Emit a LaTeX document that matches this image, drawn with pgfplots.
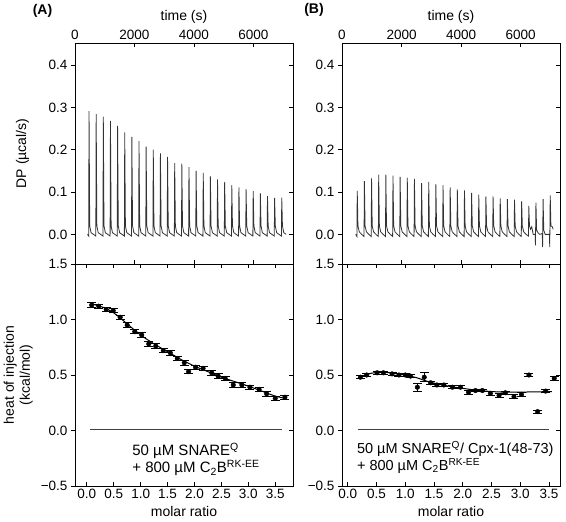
\documentclass[border=0pt]{standalone}
\usepackage{pgfplots}
\pgfplotsset{compat=1.18}
\usepackage{fontspec}
\setmainfont{Liberation Sans}
\pgfplotsset{
  myax/.style={scale only axis, width=218pt, anchor=north west,
    axis line style={line width=0.9pt}, tick style={black, line width=0.8pt},
    major tick length=4pt,
    tick label style={font=\fontsize{13.5}{15}\selectfont},
    label style={font=\fontsize{14}{16}\selectfont}},
  rt/.style={myax, xtick=\empty, ytick pos=right, yticklabels={}, ytick align=inside, axis line style={draw=none}},
  thermo/.style={draw=black!80, line width=0.8pt},
  itc/.style={only marks, mark=*, mark size=2.3pt, black,
    error bars/.cd, y dir=both, y explicit,
    error mark options={rotate=90, mark size=4.5pt, line width=0.9pt, black},
    error bar style={line width=0.9pt, black}}
}
\begin{document}
\begin{tikzpicture}
\useasboundingbox (0pt,0pt) rectangle (566pt,-522pt);
% ---------------- (A) top
\begin{axis}[myax, at={(75pt,-43pt)}, height=221pt, xmin=0, xmax=7330, ymin=-0.07, ymax=0.452,
  xtick={0,2000,4000,6000}, xticklabels={0,2000,4000,6000}, xtick pos=both, xticklabel pos=upper, xtick align=inside,
  ytick={0,0.1,0.2,0.3,0.4}, yticklabels={0.0,0.1,0.2,0.3,0.4}, ytick pos=left, ytick align=outside,
  xlabel={time (s)}, ylabel={DP (µcal/s)},
  ylabel style={at={(axis description cs:-0.241,0.5)}, anchor=center}]
\addplot[thermo] table {
420 0
460 -0.004
472 0.291
495 0.02
540 0.004
620 0
700 -0.004
712 0.284
735 0.02
780 0.004
860 0
940 -0.004
952 0.278
975 0.02
1020 0.004
1100 0
1180 -0.004
1192 0.268
1215 0.02
1260 0.004
1340 0
1420 -0.004
1432 0.256
1455 0.02
1500 0.004
1580 0
1660 -0.004
1672 0.241
1695 0.02
1740 0.004
1820 0
1900 -0.004
1912 0.230
1935 0.02
1980 0.004
2060 0
2140 -0.004
2152 0.220
2175 0.02
2220 0.004
2300 0
2380 -0.004
2392 0.207
2415 0.02
2460 0.004
2540 0
2620 -0.004
2632 0.200
2655 0.02
2700 0.004
2780 0
2860 -0.004
2872 0.191
2895 0.02
2940 0.004
3020 0
3100 -0.004
3112 0.183
3135 0.02
3180 0.004
3260 0
3340 -0.004
3352 0.168
3375 0.02
3420 0.004
3500 0
3580 -0.004
3592 0.167
3615 0.02
3660 0.004
3740 0
3820 -0.004
3832 0.159
3855 0.02
3900 0.004
3980 0
4060 -0.004
4072 0.150
4095 0.02
4140 0.004
4220 0
4300 -0.004
4312 0.145
4335 0.02
4380 0.004
4460 0
4540 -0.004
4552 0.137
4575 0.02
4620 0.004
4700 0
4780 -0.004
4792 0.130
4815 0.02
4860 0.004
4940 0
5020 -0.004
5032 0.124
5055 0.02
5100 0.004
5180 0
5260 -0.004
5272 0.116
5295 0.02
5340 0.004
5420 0
5500 -0.004
5512 0.111
5535 0.02
5580 0.004
5660 0
5740 -0.004
5752 0.107
5775 0.02
5820 0.004
5900 0
5980 -0.004
5992 0.102
6015 0.02
6060 0.004
6140 0
6220 -0.004
6232 0.097
6255 0.02
6300 0.004
6380 0
6460 -0.004
6472 0.091
6495 0.02
6540 0.004
6620 0
6700 -0.004
6712 0.086
6735 0.02
6780 0.004
6860 0
6940 -0.004
6952 0.087
6975 0.02
7020 0.004
7100 0
};
\end{axis}
\begin{axis}[rt, at={(75pt,-43pt)}, height=221pt, xmin=0, xmax=7330, ymin=-0.07, ymax=0.452,
  ytick={0,0.1,0.2,0.3,0.4}]
\end{axis}
% ---------------- (A) bottom
\begin{axis}[myax, at={(75pt,-264pt)}, height=222pt, xmin=-0.22, xmax=3.83, ymin=-0.5, ymax=1.5,
  xtick={0,0.5,1,1.5,2,2.5,3,3.5}, xticklabels={0.0,0.5,1.0,1.5,2.0,2.5,3.0,3.5},
  xtick pos=both, xticklabel pos=lower, xtick align=inside,
  ytick={-0.5,0,0.5,1,1.5}, yticklabels={−0.5,0.0,0.5,1.0,1.5}, ytick pos=left, ytick align=outside,
  xlabel={molar ratio}, ylabel={heat of injection\\(kcal/mol)},
  ylabel style={align=center, at={(axis description cs:-0.26,0.5)}, anchor=center}]
\addplot[black!75, line width=1pt] coordinates {(0.06,0.005) (3.62,0.005)};
\addplot[black, line width=1pt, smooth] coordinates {
(0.09,1.14) (0.3,1.11) (0.5,1.06) (0.75,0.96) (1.0,0.86) (1.25,0.78) (1.5,0.71)
(1.75,0.64) (2.0,0.58) (2.25,0.53) (2.5,0.48) (2.75,0.44) (3.0,0.40) (3.25,0.355) (3.5,0.31) (3.68,0.29)};
\addplot[itc] table[x=x, y=y, y error=e] {
x y e
0.09 1.13 0.02
0.22 1.12 0.02
0.36 1.09 0.02
0.49 1.08 0.02
0.62 1.02 0.02
0.75 0.95 0.02
0.89 0.89 0.02
1.02 0.86 0.02
1.15 0.78 0.02
1.28 0.76 0.02
1.42 0.72 0.02
1.55 0.70 0.02
1.68 0.65 0.02
1.81 0.61 0.02
1.89 0.53 0.02
2.02 0.57 0.02
2.16 0.56 0.02
2.32 0.52 0.02
2.44 0.49 0.02
2.57 0.47 0.02
2.72 0.41 0.02
2.88 0.41 0.02
3.03 0.39 0.02
3.20 0.37 0.02
3.34 0.33 0.02
3.50 0.29 0.02
3.68 0.30 0.02
};
\node[anchor=west, font=\fontsize{15}{17}\selectfont] at (axis cs:0.78,-0.185) {50 µM SNARE\textsuperscript{Q}};
\node[anchor=west, font=\fontsize{15}{17}\selectfont] at (axis cs:0.78,-0.34) {+ 800 µM C\textsubscript{2}B\textsuperscript{RK-EE}};
\end{axis}
\begin{axis}[rt, at={(75pt,-264pt)}, height=222pt, xmin=-0.22, xmax=3.83, ymin=-0.5, ymax=1.5,
  ytick={-0.5,0,0.5,1,1.5}]
\end{axis}
% ---------------- (B) top
\begin{axis}[myax, at={(342pt,-43pt)}, height=221pt, xmin=0, xmax=7320, ymin=-0.07, ymax=0.452,
  xtick={0,2000,4000,6000}, xticklabels={0,2000,4000,6000}, xtick pos=both, xticklabel pos=upper, xtick align=inside,
  ytick={0,0.1,0.2,0.3,0.4}, yticklabels={0.0,0.1,0.2,0.3,0.4}, ytick pos=left, ytick align=outside,
  xlabel={time (s)}]
\addplot[thermo] table {
460 0
500 -0.005
512 0.103
535 0.02
580 0.006
660 0
740 -0.005
752 0.126
775 0.02
820 0.006
900 0
980 -0.005
992 0.132
1015 0.02
1060 0.006
1140 0
1220 -0.005
1232 0.141
1255 0.02
1300 0.006
1380 0
1460 -0.005
1472 0.141
1495 0.02
1540 0.006
1620 0
1700 -0.005
1712 0.139
1735 0.02
1780 0.006
1860 0
1940 -0.005
1952 0.136
1975 0.02
2020 0.006
2100 0
2180 -0.005
2192 0.134
2215 0.02
2260 0.006
2340 0
2420 -0.005
2432 0.131
2455 0.02
2500 0.006
2580 0
2660 -0.005
2672 0.121
2695 0.02
2740 0.006
2820 0
2900 -0.005
2912 0.124
2935 0.02
2980 0.006
3060 0
3140 -0.005
3152 0.118
3175 0.02
3220 0.006
3300 0
3380 -0.005
3392 0.116
3415 0.02
3460 0.006
3540 0
3620 -0.005
3632 0.111
3655 0.02
3700 0.006
3780 0
3860 -0.005
3872 0.106
3895 0.02
3940 0.006
4020 0
4100 -0.005
4112 0.104
4135 0.02
4180 0.006
4260 0
4340 -0.005
4352 0.098
4375 0.02
4420 0.006
4500 0
4580 -0.005
4592 0.094
4615 0.02
4660 0.006
4740 0
4820 -0.005
4832 0.090
4855 0.02
4900 0.006
4980 0
5060 -0.005
5072 0.090
5095 0.02
5140 0.006
5220 0
5300 -0.005
5312 0.085
5335 0.02
5380 0.006
5460 0
5540 -0.005
5552 0.083
5575 0.02
5620 0.006
5700 0
5780 -0.005
5792 0.082
5815 0.02
5860 0.006
5940 0
6020 -0.005
6032 0.078
6055 0.02
6100 0.006
6180 0
6260 -0.004
6272 0.067
6295 0.02
6330 0.012
6370 0.018
6420 0
6490 0
6495 -0.026
6512 0.075
6535 0.01
6580 0.004
6640 0
6725 0.002
6735 -0.03
6752 0.084
6775 0.01
6820 0
6880 0
6965 0
6975 -0.03
6992 0.092
7015 0.02
7060 0.018
7090 0.012
};
\end{axis}
\begin{axis}[rt, at={(342pt,-43pt)}, height=221pt, xmin=0, xmax=7320, ymin=-0.07, ymax=0.452,
  ytick={0,0.1,0.2,0.3,0.4}]
\end{axis}
% ---------------- (B) bottom
\begin{axis}[myax, at={(342pt,-264pt)}, height=222pt, xmin=-0.1, xmax=3.69, ymin=-0.5, ymax=1.5,
  clip=false,
  xtick={0,0.5,1,1.5,2,2.5,3,3.5}, xticklabels={0.0,0.5,1.0,1.5,2.0,2.5,3.0,3.5},
  xtick pos=both, xticklabel pos=lower, xtick align=inside,
  ytick={-0.5,0,0.5,1,1.5}, yticklabels={−0.5,0.0,0.5,1.0,1.5}, ytick pos=left, ytick align=outside,
  xlabel={molar ratio}]
\addplot[black!75, line width=1pt] coordinates {(0.17,0.005) (3.5,0.005)};
\addplot[black, line width=1pt, smooth] coordinates {
(0.22,0.485) (0.4,0.515) (0.6,0.525) (0.8,0.515) (1.0,0.50) (1.2,0.475) (1.4,0.44) (1.6,0.415)
(1.8,0.395) (2.0,0.38) (2.2,0.365) (2.4,0.355) (2.6,0.348) (2.8,0.345) (3.0,0.345) (3.2,0.348) (3.55,0.35)};
\addplot[itc] table[x=x, y=y, y error=e] {
x y e
0.22 0.48 0.015
0.33 0.50 0.015
0.51 0.52 0.012
0.62 0.52 0.012
0.77 0.51 0.012
0.89 0.50 0.012
1.00 0.50 0.012
1.09 0.49 0.015
1.21 0.39 0.035
1.33 0.48 0.04
1.44 0.43 0.015
1.55 0.41 0.015
1.67 0.41 0.012
1.82 0.39 0.015
1.96 0.39 0.012
2.10 0.345 0.02
2.22 0.36 0.012
2.34 0.36 0.012
2.48 0.335 0.015
2.63 0.315 0.02
2.74 0.34 0.015
2.89 0.305 0.02
3.02 0.325 0.015
3.15 0.50 0.015
3.30 0.17 0.015
3.44 0.355 0.015
3.59 0.47 0.02
};
\node[anchor=west, font=\fontsize{14.5}{17}\selectfont] at (axis cs:0.1,-0.167) {50 µM SNARE\textsuperscript{Q}/ Cpx-1(48-73)};
\node[anchor=west, font=\fontsize{14.5}{17}\selectfont] at (axis cs:0.1,-0.32) {+ 800 µM C\textsubscript{2}B\textsuperscript{RK-EE}};
\end{axis}
\begin{axis}[rt, at={(342pt,-264pt)}, height=222pt, xmin=-0.1, xmax=3.69, ymin=-0.5, ymax=1.5,
  ytick={-0.5,0,0.5,1,1.5}]
\end{axis}
% panel letters
\node[font=\bfseries\fontsize{14}{16}\selectfont] at (42.5pt,-11pt) {(A)};
\node[font=\bfseries\fontsize{14}{16}\selectfont] at (314pt,-10pt) {(B)};
\end{tikzpicture}
\end{document}
